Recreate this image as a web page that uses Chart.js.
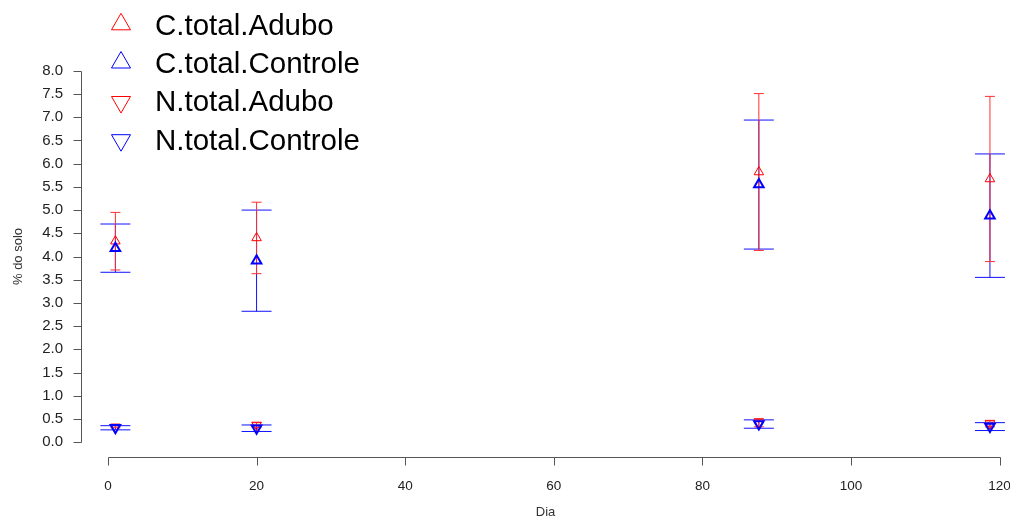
<!DOCTYPE html>
<html>
<head>
<meta charset="utf-8">
<script src="https://cdn.jsdelivr.net/npm/chart.js@4.4.0/dist/chart.umd.min.js"></script>
<style>
  html, body { margin: 0; padding: 0; background: #fff; }
  #wrap { width: 1010px; height: 520px; }
</style>
</head>
<body>
<div id="wrap"><canvas id="chart" width="1010" height="520"></canvas></div>
<script>
// dias de coleta
const dias = [1, 20, 87.6, 118.7];

// médias e desvios (% do solo)
const cTotalAdubo = [4.33, 4.40, 5.82, 5.67];
const cTotalAduboSd = [0.62, 0.77, 1.69, 1.78];
const cTotalControle = [4.18, 3.91, 5.55, 4.88];
const cTotalControleSd = [0.52, 1.09, 1.39, 1.33];
const nTotalAdubo = [0.33, 0.37, 0.42, 0.40];
const nTotalAduboSd = [0.02, 0.05, 0.09, 0.07];
const nTotalControle = [0.31, 0.30, 0.39, 0.335];
const nTotalControleSd = [0.045, 0.07, 0.09, 0.085];

const xTicks = [0, 20, 40, 60, 80, 100, 120];
const yTicks = [0, 0.5, 1, 1.5, 2, 2.5, 3, 3.5, 4, 4.5, 5, 5.5, 6, 6.5, 7, 7.5, 8];

const FONT = "'Liberation Sans', Arial, sans-serif";
const RED = '#ff0000';
const BLUE = '#0000ff';
const AXIS = '#555';

function pts(vals) {
    return vals.map((v, i) => ({x: dias[i], y: v}));
}

function serie(label, vals, sd, color, down, bold, capHalf, order) {
    return {
        label: label,
        data: pts(vals),
        sd: sd,
        capHalf: capHalf,
        barColor: color === RED ? '#ff3030' : '#1010ff',
        down: down,
        showLine: false,
        pointStyle: 'triangle',
        rotation: down ? 180 : 0,
        pointRadius: 5.5,
        pointHoverRadius: 5.5,
        pointBorderColor: color,
        pointBackgroundColor: 'rgba(0,0,0,0)',
        pointBorderWidth: bold ? 2 : 1,
        borderColor: color,
        order: order
    };
}

const datasets = [
    serie('C.total.Adubo', cTotalAdubo, cTotalAduboSd, RED, false, false, 5, 4),
    serie('C.total.Controle', cTotalControle, cTotalControleSd, BLUE, false, true, 15, 2),
    serie('N.total.Adubo', nTotalAdubo, nTotalAduboSd, RED, true, false, 5, 3),
    serie('N.total.Controle', nTotalControle, nTotalControleSd, BLUE, true, true, 15, 1)
];

// barras de erro: azul primeiro, vermelho por cima
const errorBars = {
    id: 'errorBars',
    beforeDatasetsDraw(chart) {
        const {ctx, scales: {x, y}} = chart;
        const ordem = [1, 3, 0, 2];
        ctx.save();
        ctx.lineWidth = 1;
        for (const k of ordem) {
            const ds = chart.data.datasets[k];
            ds.data.forEach((p, i) => {
                const px = x.getPixelForValue(p.x);
                const top = y.getPixelForValue(p.y + ds.sd[i]);
                const bot = y.getPixelForValue(p.y - ds.sd[i]);
                ctx.strokeStyle = ds.barColor;
                ctx.beginPath();
                ctx.moveTo(px, top);
                ctx.lineTo(px, bot);
                ctx.moveTo(px - ds.capHalf, top);
                ctx.lineTo(px + ds.capHalf, top);
                ctx.moveTo(px - ds.capHalf, bot);
                ctx.lineTo(px + ds.capHalf, bot);
                ctx.stroke();
            });
        }
        ctx.restore();
    }
};

// eixos no estilo do R: linha só do primeiro ao último tick
const axisLines = {
    id: 'axisLines',
    afterDraw(chart) {
        const {ctx, scales: {x, y}, chartArea} = chart;
        ctx.save();
        ctx.strokeStyle = AXIS;
        ctx.lineWidth = 1;
        ctx.beginPath();
        const yb = Math.round(chartArea.bottom) + 0.5;
        ctx.moveTo(Math.round(x.getPixelForValue(xTicks[0])) + 0.5, yb);
        ctx.lineTo(Math.round(x.getPixelForValue(xTicks[xTicks.length - 1])) + 0.5, yb);
        for (const v of xTicks) {
            const px = Math.round(x.getPixelForValue(v)) + 0.5;
            ctx.moveTo(px, yb);
            ctx.lineTo(px, yb + 8);
        }
        const xl = Math.round(chartArea.left) + 0.5;
        ctx.moveTo(xl, Math.round(y.getPixelForValue(yTicks[0])) + 0.5);
        ctx.lineTo(xl, Math.round(y.getPixelForValue(yTicks[yTicks.length - 1])) + 0.5);
        for (const v of yTicks) {
            const py = Math.round(y.getPixelForValue(v)) + 0.5;
            ctx.moveTo(xl, py);
            ctx.lineTo(xl - 8, py);
        }
        ctx.stroke();
        ctx.restore();
    }
};

// legenda no canto superior esquerdo
const legendBox = {
    id: 'legendBox',
    afterDraw(chart) {
        const ctx = chart.ctx;
        const x0 = 121, tx = 155, base0 = 35, step = 38.2, r = 11;
        ctx.save();
        chart.data.datasets.forEach((ds, i) => {
            const base = base0 + i * step;
            const cy = base - (ds.down ? 9.4 : 10.7);
            ctx.strokeStyle = ds.pointBorderColor;
            ctx.lineWidth = 1;
            ctx.beginPath();
            const s = ds.down ? -1 : 1;
            const w = r * Math.sqrt(3) / 2;
            ctx.moveTo(x0, cy - s * r);
            ctx.lineTo(x0 + w, cy + s * r / 2);
            ctx.lineTo(x0 - w, cy + s * r / 2);
            ctx.closePath();
            ctx.stroke();
            ctx.fillStyle = '#000';
            ctx.font = '29.5px ' + FONT;
            ctx.textBaseline = 'alphabetic';
            ctx.textAlign = 'left';
            ctx.fillText(ds.label, tx, base);
        });
        ctx.restore();
    }
};

new Chart(document.getElementById('chart'), {
    type: 'scatter',
    data: {datasets: datasets},
    plugins: [errorBars, axisLines, legendBox],
    options: {
        responsive: false,
        animation: false,
        events: [],
        layout: {autoPadding: false, padding: {top: 56, right: 0, bottom: 0, left: 0}},
        plugins: {legend: {display: false}, tooltip: {enabled: false}},
        scales: {
            x: {
                type: 'linear',
                min: -3.63,
                max: 121.4,
                afterBuildTicks: s => { s.ticks = xTicks.map(v => ({value: v})); },
                afterFit: s => { s.height = 63; s.paddingLeft = 0; s.paddingRight = 0; },
                border: {display: false},
                // marcas desenhadas no plugin; aqui só reservam espaço
                grid: {drawOnChartArea: false, drawTicks: true, tickLength: 29, color: 'rgba(0,0,0,0)'},
                ticks: {
                    padding: -8,
                    color: '#222',
                    font: {family: FONT, size: 13.5},
                    maxRotation: 0,
                    autoSkip: false,
                    callback: v => String(v)
                },
                title: {
                    display: true,
                    text: 'Dia',
                    color: '#333',
                    font: {family: FONT, size: 13},
                    padding: {top: 0, bottom: 0}
                }
            },
            y: {
                type: 'linear',
                min: -0.32,
                max: 8.32,
                afterBuildTicks: s => { s.ticks = yTicks.map(v => ({value: v})); },
                afterFit: s => { s.width = 81; s.paddingTop = 0; s.paddingBottom = 0; },
                border: {display: false},
                grid: {drawOnChartArea: false, drawTicks: true, tickLength: 8, color: 'rgba(0,0,0,0)'},
                ticks: {
                    padding: 10,
                    color: '#222',
                    font: {family: FONT, size: 15},
                    autoSkip: false,
                    callback: v => v.toFixed(1)
                },
                title: {
                    display: true,
                    text: '% do solo',
                    color: '#333',
                    font: {family: FONT, size: 13},
                    padding: {top: 11, bottom: 0}
                }
            }
        }
    }
});
</script>
</body>
</html>
